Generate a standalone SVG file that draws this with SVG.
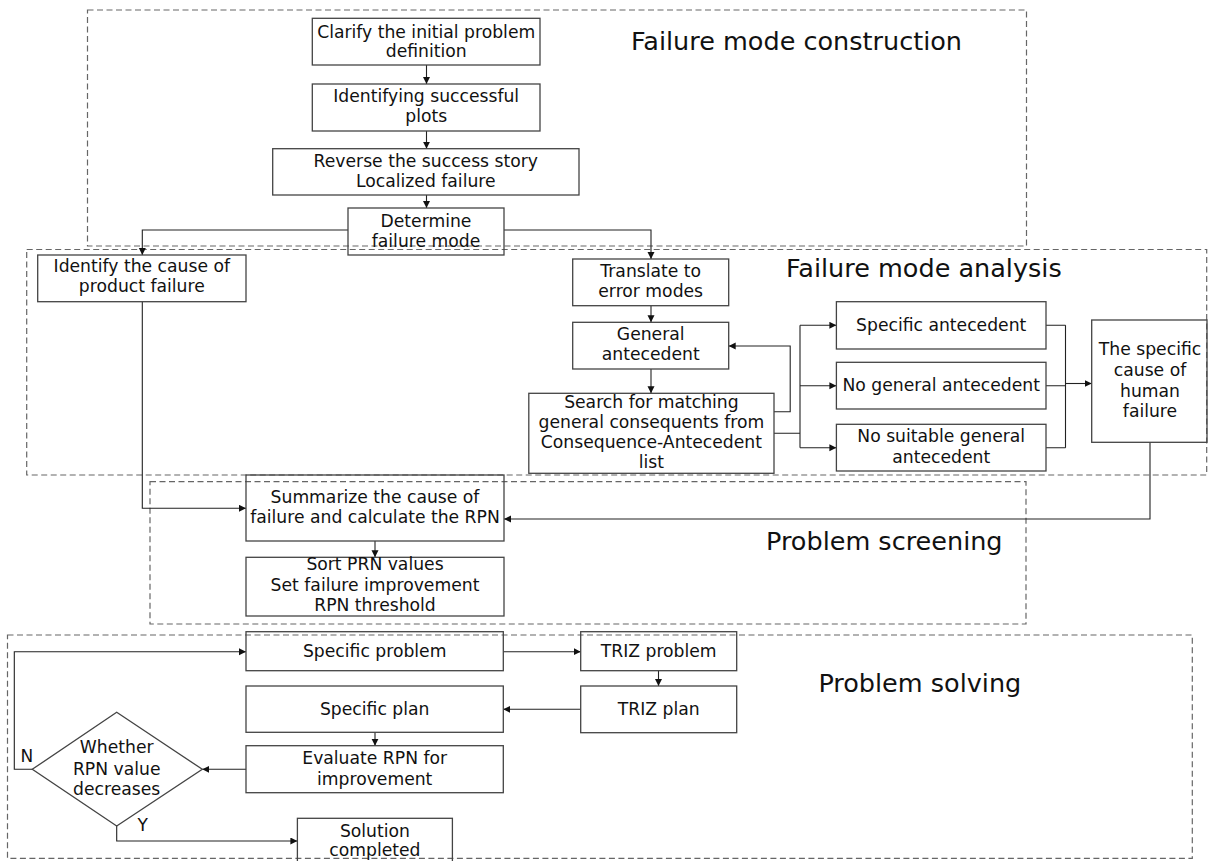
<svg xmlns="http://www.w3.org/2000/svg" width="1209" height="861" viewBox="0 0 1209 861">
<style>
.bg{fill:#fff}
.grp{fill:none;stroke:#666;stroke-width:1.2;stroke-dasharray:6 3.5}
.box{fill:none;stroke:#444;stroke-width:1.3}
.t{font-family:"DejaVu Sans",Verdana,sans-serif;font-size:17.2px;fill:#111;text-anchor:middle}
.ttl{font-family:"DejaVu Sans",Verdana,sans-serif;font-size:25.5px;fill:#111}
.lbl{font-family:"DejaVu Sans",Verdana,sans-serif;font-size:17px;fill:#111}
.c{fill:none;stroke:#222;stroke-width:1.1}
.ca{fill:none;stroke:#222;stroke-width:1.1;marker-end:url(#ah)}
</style>
<defs>
<marker id="ah" markerUnits="userSpaceOnUse" markerWidth="8" markerHeight="8" refX="7" refY="3.5" orient="auto">
<path d="M0,0 L7,3.5 L0,7 z" fill="#111"/>
</marker>
</defs>
<rect class="bg" x="0" y="0" width="1209" height="861"/>

<g id="stages">
<rect class="grp" x="87.5" y="10" width="939" height="236"/>
<rect class="grp" x="26.7" y="249.5" width="1180" height="225.5"/>
<rect class="grp" x="150" y="481.7" width="876" height="142.3"/>
<rect class="grp" x="7.5" y="635" width="1184.8" height="223.3"/>
<text class="ttl" x="631" y="50">Failure mode construction</text>
<text class="ttl" x="786" y="277">Failure mode analysis</text>
<text class="ttl" x="766" y="550">Problem screening</text>
<text class="ttl" x="818.4" y="691.7">Problem solving</text>
</g>

<g id="connectors">
<path class="ca" d="M426.5,65 V84"/>
<path class="ca" d="M426.5,131 V148.7"/>
<path class="ca" d="M426.5,195 V208"/>
<path class="ca" d="M348,230 H142.3 V255"/>
<path class="ca" d="M504,230 H651 V259"/>
<path class="ca" d="M651,305.7 V322.3"/>
<path class="ca" d="M651,369 V393.3"/>
<path class="ca" d="M774,411.7 H790.2 V346 H728.7"/>
<path class="c" d="M774,433.3 H800 M800,325.3 V447.7"/>
<path class="ca" d="M800,325.3 H836.4"/>
<path class="ca" d="M800,385.7 H836.4"/>
<path class="ca" d="M800,447.7 H836.4"/>
<path class="c" d="M1046,325.3 H1065.5 M1046,385.7 H1065.5 M1046,447.7 H1065.5 M1065.5,325.3 V447.7"/>
<path class="ca" d="M1065.5,383.5 H1091.7"/>
<path class="ca" d="M1150,442.3 V519 H504"/>
<path class="ca" d="M142.3,301.7 V508.3 H246"/>
<path class="ca" d="M375,541 V557.3"/>
<path class="ca" d="M503.3,651.7 H580.7"/>
<path class="ca" d="M658.5,670.7 V686"/>
<path class="ca" d="M580.7,709.3 H503.3"/>
<path class="ca" d="M375,732.3 V745.7"/>
<path class="ca" d="M246,769.3 H202.3"/>
<path class="ca" d="M32.3,769.3 H14.3 V651.7 H246"/>
<path class="ca" d="M116.7,826 V841 H297.4"/>
<text class="lbl" x="20.5" y="761.7">N</text>
<text class="lbl" x="137.5" y="830.7">Y</text>
</g>

<g id="n-clarify">
<rect class="box" x="312.3" y="18.3" width="227.7" height="46.7"/>
<text class="t" x="426.2" y="37.7">Clarify the initial problem</text>
<text class="t" x="426.2" y="57.3">definition</text>
</g>
<g id="n-identifying">
<rect class="box" x="312.3" y="84" width="227.7" height="47"/>
<text class="t" x="426.2" y="101.7">Identifying successful</text>
<text class="t" x="426.2" y="121.7">plots</text>
</g>
<g id="n-reverse">
<rect class="box" x="272.7" y="148.7" width="306.3" height="46.3"/>
<text class="t" x="425.8" y="166.7">Reverse the success story</text>
<text class="t" x="425.8" y="186.7">Localized failure</text>
</g>
<g id="n-determine">
<rect class="box" x="348" y="208" width="156" height="47"/>
<text class="t" x="426" y="226.7">Determine</text>
<text class="t" x="426" y="246.7">failure mode</text>
</g>
<g id="n-identify">
<rect class="box" x="37.7" y="255" width="208.3" height="46.7"/>
<text class="t" x="141.8" y="271.7">Identify the cause of</text>
<text class="t" x="141.8" y="291.7">product failure</text>
</g>
<g id="n-translate">
<rect class="box" x="572.7" y="259" width="156" height="46.7"/>
<text class="t" x="650.7" y="277.3">Translate to</text>
<text class="t" x="650.7" y="297.3">error modes</text>
</g>
<g id="n-general">
<rect class="box" x="572.7" y="322.3" width="156" height="46.7"/>
<text class="t" x="650.7" y="340">General</text>
<text class="t" x="650.7" y="360.3">antecedent</text>
</g>
<g id="n-search">
<rect class="box" x="528.8" y="393.3" width="245.2" height="80"/>
<text class="t" x="651.4" y="408.3">Search for matching</text>
<text class="t" x="651.4" y="428.3">general consequents from</text>
<text class="t" x="651.4" y="448.3">Consequence-Antecedent</text>
<text class="t" x="651.4" y="468.3">list</text>
</g>
<g id="n-specific-antecedent">
<rect class="box" x="836.4" y="301.7" width="209.6" height="47.3"/>
<text class="t" x="941.2" y="331">Specific antecedent</text>
</g>
<g id="n-no-general">
<rect class="box" x="836.4" y="362.3" width="209.6" height="46.7"/>
<text class="t" x="941.2" y="391">No general antecedent</text>
</g>
<g id="n-no-suitable">
<rect class="box" x="836.4" y="424.3" width="209.6" height="46.7"/>
<text class="t" x="941.2" y="442">No suitable general</text>
<text class="t" x="941.2" y="462.5">antecedent</text>
</g>
<g id="n-specific-cause">
<rect class="box" x="1091.7" y="320" width="115.3" height="122.3"/>
<text class="t" x="1150" y="355">The specific</text>
<text class="t" x="1150" y="375.5">cause of</text>
<text class="t" x="1150" y="396.5">human</text>
<text class="t" x="1150" y="416.7">failure</text>
</g>
<g id="n-summarize">
<rect class="box" x="246" y="475" width="258" height="66"/>
<text class="t" x="375" y="503.3">Summarize the cause of</text>
<text class="t" x="375" y="523.3">failure and calculate the RPN</text>
</g>
<g id="n-sort">
<rect class="box" x="246" y="557.3" width="258" height="58.7"/>
<text class="t" x="375" y="570">Sort PRN values</text>
<text class="t" x="375" y="590.7">Set failure improvement</text>
<text class="t" x="375" y="611">RPN threshold</text>
</g>
<g id="n-specific-problem">
<rect class="box" x="246" y="631.7" width="257.3" height="39"/>
<text class="t" x="374.7" y="656.5">Specific problem</text>
</g>
<g id="n-triz-problem">
<rect class="box" x="580.7" y="631.7" width="156" height="39"/>
<text class="t" x="658.7" y="656.5">TRIZ problem</text>
</g>
<g id="n-triz-plan">
<rect class="box" x="580.7" y="686" width="156" height="46.7"/>
<text class="t" x="658.7" y="715">TRIZ plan</text>
</g>
<g id="n-specific-plan">
<rect class="box" x="246" y="686" width="257.3" height="46.3"/>
<text class="t" x="374.7" y="715">Specific plan</text>
</g>
<g id="n-evaluate">
<rect class="box" x="246" y="745.7" width="257.3" height="47"/>
<text class="t" x="374.7" y="764">Evaluate RPN for</text>
<text class="t" x="374.7" y="785">improvement</text>
</g>
<g id="n-decision">
<path class="box" d="M116.7,712.3 L202.3,769.3 L116.7,826 L32.3,769.3 Z"/>
<text class="t" x="116.7" y="753.3">Whether</text>
<text class="t" x="116.7" y="775">RPN value</text>
<text class="t" x="116.7" y="795">decreases</text>
</g>
<g id="n-solution">
<rect class="box" x="297.4" y="818.3" width="155" height="48"/>
<text class="t" x="374.9" y="836.7">Solution</text>
<text class="t" x="374.9" y="855.5">completed</text>
</g>
</svg>
